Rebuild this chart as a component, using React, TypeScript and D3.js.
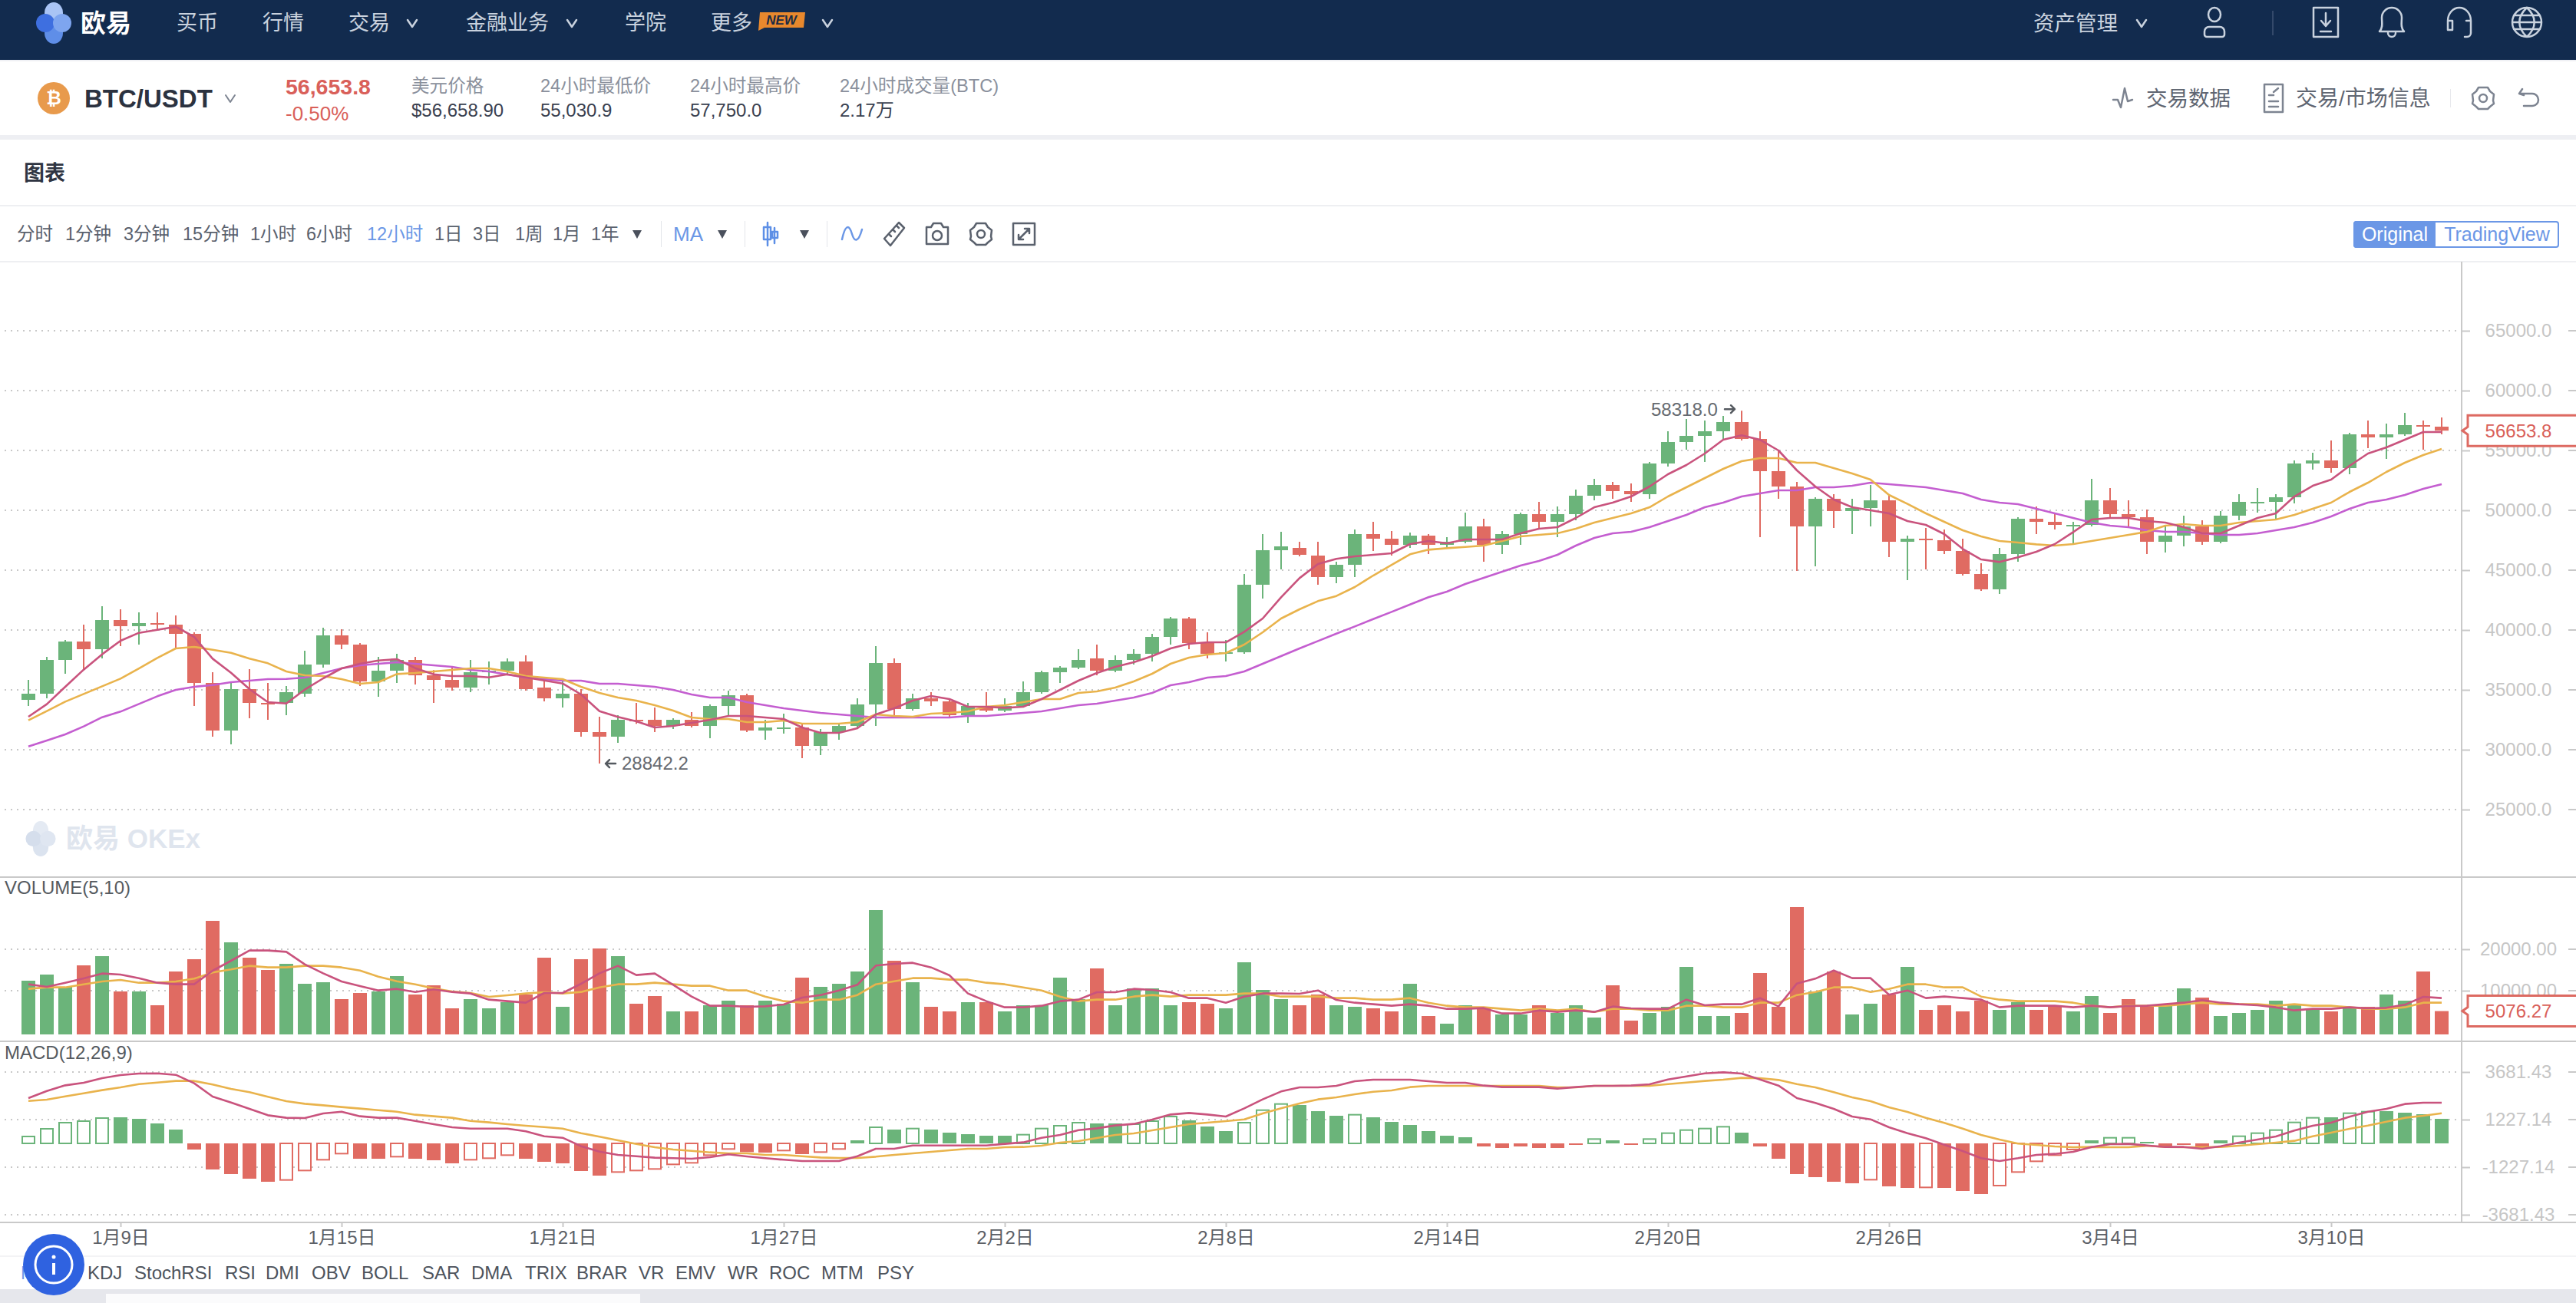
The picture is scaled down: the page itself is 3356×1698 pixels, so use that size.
import React, { useEffect, useRef } from 'react';
import * as d3 from 'd3';

const W = 3356;
const H = 1698;
const FONT = '"Liberation Sans", "Noto Sans CJK SC", sans-serif';

const GREEN = '#6bb47a';
const RED = '#e06b62';
const MA_PINK = '#c9537d';
const MA_ORANGE = '#e9b34c';
const MA_PURPLE = '#c45ed0';

// 12小时 K线, 1月6日 12:00 起
const opens = [
  34166, 34679, 37500, 39038, 38397, 40833, 40320, 40577, 40448, 39679,
  35576, 31602, 35064, 33910, 33910, 34679, 37115, 39551, 38782, 35705,
  36602, 37500, 36217, 35833, 35192, 36474, 36602, 37371, 35192, 34294,
  34679, 31474, 31089, 32499, 32499, 31986, 32499, 31986, 33653, 34551,
  31602, 31730, 31858, 30320, 31474, 31986, 33781, 37243, 33397, 34294,
  34038, 32884, 33653, 33269, 33653, 34807, 36474, 36858, 37628, 36602,
  37499, 38012, 39423, 40961, 38910, 38012, 38140, 43782, 46667, 46859,
  46218, 44423, 45448, 48013, 47628, 47115, 47884, 47115, 47371, 48654,
  47115, 48013, 49679, 49038, 49679, 51218, 52115, 51602, 51346, 53910,
  55705, 56218, 56602, 57372, 55961, 53269, 51987, 48654, 50961, 49936,
  50192, 50833, 47371, 47628, 47500, 46602, 44679, 43397, 46346, 49295,
  49038, 48654, 48782, 50833, 49679, 49423, 47372, 47884, 48654, 47372,
  49551, 50577, 50705, 51090, 53910, 54167, 53526, 56346, 56090, 56346,
  57115, 56987,
];
const closes = [
  34679, 37500, 39038, 38397, 40833, 40320, 40577, 40448, 39679, 35576,
  31602, 35064, 33910, 33781, 34807, 37115, 39551, 38782, 35705, 36602,
  37500, 36217, 35833, 35192, 36474, 36602, 37371, 35064, 34294, 34679,
  31474, 31089, 32499, 32371, 31986, 32499, 31986, 33653, 34551, 31602,
  31858, 31858, 30320, 31474, 31986, 33781, 37243, 33397, 34294, 34038,
  32884, 33653, 33269, 33653, 34807, 36474, 36858, 37499, 36602, 37499,
  38012, 39423, 40961, 38910, 38012, 38140, 43782, 46667, 46987, 46282,
  44423, 45448, 48013, 47628, 47115, 47884, 47115, 47371, 48654, 47115,
  48013, 49679, 49038, 49679, 51218, 52115, 51602, 51346, 53910, 55705,
  56218, 56602, 57372, 55961, 53269, 51987, 48654, 50961, 49936, 50192,
  50833, 47371, 47628, 47500, 46602, 44679, 43397, 46346, 49295, 49038,
  48782, 48782, 50833, 49679, 49423, 47372, 47884, 48654, 47372, 49551,
  50705, 50705, 51090, 53910, 54167, 53526, 56346, 56090, 56346, 57115,
  56987, 56653.8,
];
const highs = [
  35833, 37756, 39166, 40448, 41987, 41730, 41474, 41474, 41218, 39807,
  36474, 35576, 36730, 35576, 35320, 38269, 40192, 40064, 38910, 37756,
  38012, 37756, 36645, 36858, 37500, 37371, 37628, 37884, 35833, 35833,
  35064, 32756, 32884, 33910, 33525, 32628, 33140, 33781, 34935, 34679,
  32499, 33012, 32115, 31730, 32115, 34294, 38653, 37628, 34679, 34807,
  34166, 33910, 34807, 34294, 35705, 36602, 36987, 38397, 38782, 37884,
  38397, 39679, 41089, 41089, 39807, 39166, 44679, 48013, 48205, 47372,
  47371, 45705, 48397, 49038, 48269, 48141, 48013, 47756, 49807, 49295,
  48269, 49807, 50705, 50320, 51731, 52628, 52372, 52243, 54038, 56602,
  57628, 57500, 57885, 58318, 56602, 54979, 52372, 51090, 51346, 50961,
  52115, 51346, 47884, 48525, 48397, 47628, 45577, 46859, 49423, 50320,
  49808, 49038, 52628, 51859, 50833, 50064, 48654, 49551, 49166, 49936,
  51346, 51859, 51346, 54167, 54808, 55833, 56474, 57500, 57244, 58141,
  57500, 57756,
];
const lows = [
  33653, 34294, 36346, 36730, 37628, 38653, 38782, 40064, 38525, 33653,
  31089, 30448, 32628, 32499, 32884, 34423, 36858, 38397, 35320, 34423,
  35576, 35448, 33910, 34935, 34807, 35448, 36346, 34935, 34038, 33525,
  31089, 28842.2, 30576, 32157, 31474, 31730, 31858, 30961, 32884, 31474,
  30833, 31346, 29294, 29551, 30833, 31858, 31986, 32884, 33269, 33653,
  32756, 32243, 33140, 33140, 33525, 34679, 35576, 36730, 36217, 36474,
  37115, 37371, 38782, 38397, 37628, 37371, 38012, 42628, 45064, 46154,
  43782, 43910, 44423, 46602, 46218, 46859, 46346, 46859, 47243, 45705,
  46346, 47115, 48525, 47756, 49166, 50833, 50961, 50705, 50961, 53654,
  55064, 54038, 55961, 55833, 47756, 50961, 44936, 45320, 48525, 48013,
  48654, 46090, 44167, 45064, 46346, 44551, 43269, 43013, 45705, 48013,
  48397, 47115, 48654, 49423, 48654, 46346, 46474, 46987, 47115, 47243,
  49166, 49808, 49295, 50577, 53397, 53141, 53013, 55192, 54295, 56218,
  55064, 56346,
];

const ma5 = [
  32756, 33803, 35256, 36688, 37970, 39102, 39765, 40021, 40277, 39423,
  37606, 36431, 35064, 33974, 33867, 35021, 35961, 36794, 37179, 37456,
  37564, 36816, 36303, 36153, 36153, 36046, 36303, 36046, 35790, 35534,
  34615, 33226, 32734, 32371, 31858, 31986, 32243, 32499, 32820, 32820,
  32692, 32563, 31858, 31410, 31410, 31794, 32948, 33461, 34102, 34486,
  34230, 33589, 33589, 33504, 33589, 34230, 35000, 35769, 36410, 36922,
  37307, 37820, 38461, 38846, 38974, 38974, 39850, 40961, 42735, 44337,
  45512, 45940, 46153, 46281, 46410, 47179, 47435, 47243, 47564, 47564,
  47564, 48076, 48461, 48589, 49359, 50256, 50641, 51154, 51987, 53013,
  53782, 54743, 55897, 56261, 55897, 55000, 53333, 51987, 50897, 50256,
  50000, 49743, 49102, 48782, 48013, 46773, 45897, 45683, 46068, 46538,
  47179, 48183, 49230, 49359, 49359, 49102, 48974, 48589, 48076, 48076,
  48718, 49359, 49743, 51153, 52051, 52564, 53718, 54743, 55256, 55897,
  56538, 56538,
];
const ma10 = [
  32456, 33226, 34016, 34657, 35299, 35940, 36794, 37670, 38461, 38589,
  38354, 38098, 37606, 37222, 36538, 36217, 36153, 35897, 35512, 35641,
  36324, 36410, 36538, 36666, 36794, 36794, 36538, 36153, 36025, 35897,
  35256, 34743, 34358, 34102, 33717, 33268, 32692, 32563, 32563, 32307,
  32307, 32435, 32179, 32179, 32179, 32307, 32948, 32820, 32756, 33012,
  33076, 33204, 33589, 33717, 33974, 34230, 34230, 34743, 34871, 35192,
  35705, 36346, 37179, 37692, 37948, 38076, 38782, 39807, 40961, 41730,
  42414, 42841, 43589, 44551, 45448, 46324, 46709, 46837, 46944, 47051,
  47435, 47820, 47948, 48076, 48461, 48974, 49359, 49743, 50256, 51154,
  51923, 52692, 53461, 54102, 54359, 54359, 53974, 53974, 53526, 53077,
  52564, 51282, 50534, 49743, 49038, 48333, 47820, 47435, 47307, 47158,
  47051, 47179, 47435, 47692, 47948, 48205, 48718, 48846, 48718, 48718,
  48974, 49102, 49230, 49615, 50128, 50641, 51538, 52307, 53205, 53974,
  54615, 55128,
];
const ma30 = [
  30277, 30768, 31281, 31944, 32713, 33183, 33824, 34465, 35000, 35256,
  35405, 35640, 35769, 35897, 35918, 36025, 36410, 36794, 37051, 37179,
  37307, 37179, 37051, 36922, 36666, 36538, 36281, 36025, 35897, 35769,
  35769, 35512, 35512, 35384, 35256, 35000, 34615, 34358, 34358, 33974,
  33717, 33461, 33268, 33076, 32948, 32820, 32692, 32692, 32692, 32692,
  32692, 32820, 32820, 32948, 33076, 33204, 33461, 33717, 33845, 34102,
  34358, 34743, 35384, 35640, 36025, 36153, 36538, 37179, 37820, 38461,
  39080, 39700, 40298, 40918, 41516, 42136, 42735, 43205, 43845, 44359,
  44871, 45384, 45769, 46281, 47051, 47692, 48076, 48205, 48589, 49102,
  49615, 50256, 50641, 51154, 51410, 51666, 51666, 51923, 51923, 52051,
  52307, 52179, 52051, 51923, 51666, 51410, 50897, 50641, 50513, 50128,
  49743, 49359, 48974, 48718, 48589, 48333, 48205, 48205, 48076, 47948,
  47948, 48076, 48333, 48589, 48974, 49487, 50128, 50641, 50897, 51282,
  51794, 52179,
];

const volumes = [
  12408, 13889, 10926, 16111, 18334, 9815, 9815, 6482, 14630, 17593,
  26853, 21667, 17963, 15000, 16482, 11667, 12037, 7963, 9445, 9815,
  13519, 9074, 11297, 5741, 7963, 5741, 7222, 9074, 17963, 6111,
  17593, 20186, 18334, 6852, 8704, 5000, 5000, 6482, 7593, 6482,
  7593, 6852, 13148, 10926, 11667, 14630, 29445, 17223, 12037, 6111,
  5000, 7222, 7222, 5000, 6482, 6482, 13148, 7963, 15371, 6482,
  10556, 10556, 6482, 7222, 6852, 5741, 16852, 10185, 7963, 6482,
  9074, 6482, 6111, 5741, 5000, 11667, 3889, 2037, 6482, 6111,
  4259, 4259, 6482, 4630, 6482, 3519, 11297, 2778, 4630, 6111,
  15741, 3889, 3889, 4630, 14260, 6111, 30186, 9815, 14630, 4259,
  6852, 9074, 15741, 5371, 6482, 5000, 7593, 5371, 7222, 5371,
  6482, 5000, 8704, 4630, 7963, 6111, 6482, 10556, 8334, 3889,
  4630, 5371, 7593, 6482, 5371, 5000, 6111, 6111, 9074, 7593,
  14630, 5076.27,
];
const volMa5 = [
  11544, 10926, 11914, 12963, 14136, 13889, 13025, 11914, 11544, 11544,
  14815, 17223, 19692, 19692, 19383, 16358, 14198, 12223, 11111, 10062,
  10432, 9692, 10309, 9692, 9321, 7840, 7469, 7099, 9445, 9445,
  11667, 14198, 15988, 13766, 14136, 11420, 8580, 6358, 6358, 6111,
  6235, 6667, 8334, 8951, 10062, 11420, 16050, 16482, 16729, 15618,
  13704, 9321, 7469, 5988, 5988, 6358, 7469, 7840, 9630, 9630,
  10432, 10185, 9630, 8210, 8210, 7099, 8580, 9321, 9321, 9260,
  10062, 7778, 7099, 6729, 6358, 6729, 6358, 5617, 5617, 5803,
  4506, 4506, 5247, 4877, 5247, 4877, 6173, 5741, 5617, 5617,
  7840, 6482, 6729, 6729, 8210, 6235, 11729, 12902, 14877, 13025,
  13025, 9013, 10062, 8210, 8580, 8210, 7840, 5988, 6358, 6358,
  6358, 5988, 6358, 5988, 6296, 6358, 6729, 7099, 7716, 7099,
  6729, 6482, 5988, 5247, 5617, 5617, 5988, 5741, 5864, 6605,
  8519, 8210,
];
const volMa10 = [
  10432, 10803, 10803, 11544, 12223, 12593, 11914, 11914, 12223, 12902,
  14383, 15124, 15988, 15618, 15618, 15988, 15988, 15618, 14877, 13395,
  12284, 11544, 10556, 9815, 9445, 8519, 8889, 9321, 9630, 9321,
  9692, 10803, 11544, 11544, 11914, 11544, 11173, 11173, 10062, 10062,
  8580, 7469, 7099, 7840, 7840, 8951, 11544, 12284, 13025, 13025,
  12655, 12655, 11914, 11544, 10803, 10062, 8580, 7469, 7840, 7840,
  8580, 8951, 8580, 8951, 8951, 8951, 9321, 9321, 8580, 8580,
  8580, 8210, 8210, 7840, 7840, 8210, 7099, 6358, 5988, 5988,
  5617, 5247, 5617, 5247, 5617, 4877, 5617, 5617, 5247, 5247,
  6358, 6358, 5988, 5988, 7099, 7099, 8951, 9692, 10803, 10803,
  9692, 10432, 11544, 11544, 10803, 10803, 8580, 7840, 7469, 7469,
  7469, 7099, 6358, 5988, 6358, 6358, 6358, 6729, 7099, 6729,
  6729, 6729, 6358, 6729, 6358, 6358, 5988, 5617, 5617, 5988,
  7099, 7099,
];

const macdBars = [
  356, 752, 1069, 1148, 1306, 1346, 1267, 1029, 713, -317,
  -1346, -1583, -1821, -1979, -1887, -1399, -844, -528, -792, -792,
  -686, -792, -871, -1029, -844, -765, -607, -792, -950, -1029,
  -1425, -1663, -1478, -1399, -1320, -1082, -1003, -607, -290, -449,
  -475, -369, -554, -449, -290, 158, 831, 713, 765, 713,
  554, 475, 396, 396, 449, 765, 910, 1069, 1029, 1029,
  990, 1148, 1385, 1188, 871, 633, 1069, 1715, 2032, 1979,
  1663, 1425, 1478, 1346, 1108, 950, 633, 396, 317, -158,
  -237, -158, -237, -237, -79, 224, 158, -79, 224, 528,
  686, 765, 858, 554, -158, -792, -1583, -1742, -1979, -2058,
  -1874, -2217, -2296, -2270, -2296, -2454, -2613, -2177, -1478, -924,
  -607, -317, 158, 290, 290, 79, -158, -79, -158, 158,
  369, 528, 686, 1082, 1320, 1346, 1557, 1636, 1663, 1583,
  1504, 1267,
];
// 空心柱的序号
const macdHollow = [
  0, 1, 2, 3, 4, 14, 15, 16, 17, 20, 24, 25, 26, 32, 33, 34, 35, 36, 37, 38,
  41, 43, 44, 46, 48, 54, 55, 56, 57, 60, 61, 62, 66, 67, 68, 72, 85, 88, 89,
  90, 91, 92, 100, 103, 107, 108, 109, 110, 111, 113, 114, 120, 121, 122, 123,
  124, 126, 127,
];
const dif = [
  2336, 2705, 2995, 3127, 3365, 3523, 3602, 3615, 3536, 3101,
  2415, 2111, 1781, 1451, 1320, 1306, 1544, 1636, 1399, 1320,
  1320, 1161, 990, 831, 765, 765, 765, 620, 369, 290,
  -145, -422, -594, -660, -739, -765, -792, -713, -567, -673,
  -765, -844, -910, -910, -910, -660, -277, -277, -106, -106,
  -106, -106, -106, -26, 53, 290, 435, 686, 778, 924,
  1003, 1227, 1491, 1570, 1491, 1385, 1808, 2270, 2679, 2890,
  2890, 2969, 3206, 3286, 3286, 3286, 3206, 3127, 3127, 2982,
  2903, 2903, 2903, 2824, 2903, 2969, 2969, 2982, 3048, 3299,
  3457, 3615, 3668, 3602, 3299, 2982, 2336, 2085, 1781, 1385,
  1240, 831, 528, 264, -66, -396, -765, -910, -765, -594,
  -541, -435, -185, -40, -26, -106, -185, -185, -277, -145,
  40, 198, 356, 660, 910, 1069, 1372, 1636, 1781, 2032,
  2098, 2098,
];
const dea = [
  2190, 2256, 2428, 2586, 2745, 2890, 3061, 3140, 3220, 3220,
  3035, 2811, 2639, 2401, 2177, 2045, 1966, 1874, 1795, 1715,
  1636, 1478, 1399, 1320, 1161, 1082, 990, 910, 844, 765,
  528, 343, 158, -26, -198, -317, -383, -462, -515, -515,
  -594, -594, -660, -726, -752, -752, -686, -594, -515, -435,
  -356, -277, -277, -198, -185, -119, 40, 119, 277, 435,
  515, 673, 831, 990, 1069, 1148, 1240, 1544, 1808, 2058,
  2270, 2375, 2533, 2665, 2731, 2903, 2969, 2969, 2969, 2969,
  2969, 2969, 2969, 2890, 2890, 2969, 2969, 2969, 2969, 3061,
  3140, 3220, 3286, 3378, 3365, 3272, 3061, 2890, 2639, 2375,
  2177, 1860, 1623, 1320, 1056, 765, 435, 198, -13, -79,
  -158, -198, -185, -198, -198, -119, -185, -198, -198, -185,
  -119, -40, 40, 132, 369, 554, 752, 924, 1122, 1320,
  1425, 1557,
];

const priceTicks = [65000, 60000, 55000, 50000, 45000, 40000, 35000, 30000, 25000];
const volumeTicks = [20000, 10000];
const macdTicks = [3681.43, 1227.14, -1227.14, -3681.43];
const dateTickIndex = [5, 17, 29, 41, 53, 65, 77, 89, 101, 113, 125];
const dateTickLabels = ['1月9日', '1月15日', '1月21日', '1月27日', '2月2日', '2月8日', '2月14日', '2月20日', '2月26日', '3月4日', '3月10日'];

const navItems: [string, number][] = [['买币', 230], ['行情', 342], ['交易', 454], ['金融业务', 607], ['学院', 814], ['更多', 926]];
const navChevrons = [537, 745, 1078, 2790];
const statItems: [string, string, number][] = [
  ['美元价格', '$56,658.90', 536],
  ['24小时最低价', '55,030.9', 704],
  ['24小时最高价', '57,750.0', 899],
  ['24小时成交量(BTC)', '2.17万', 1094],
];
const periods: [string, number][] = [
  ['分时', 22], ['1分钟', 85], ['3分钟', 161], ['15分钟', 238], ['1小时', 326], ['6小时', 399],
  ['12小时', 478], ['1日', 566], ['3日', 616], ['1周', 671], ['1月', 720], ['1年', 770],
];
const indicators: [string, number][] = [
  ['KDJ', 114], ['StochRSI', 175], ['RSI', 293], ['DMI', 346], ['OBV', 406], ['BOLL', 471], ['SAR', 550], ['DMA', 614],
  ['TRIX', 684], ['BRAR', 751], ['VR', 832], ['EMV', 880], ['WR', 948], ['ROC', 1002], ['MTM', 1070], ['PSY', 1143],
];

type Sel = d3.Selection<SVGGElement, unknown, null, undefined>;

const App: React.FC = () => {
  const ref = useRef<SVGSVGElement>(null);

  useEffect(() => {
    const svg = d3.select(ref.current!);
    svg.selectAll('*').remove();
    const root = svg.append('g') as unknown as Sel;

    const text = (
      g: Sel, x: number, y: number, s: string, size: number, fill: string,
      anchor = 'start', weight = 'normal',
    ) =>
      g.append('text').attr('x', x).attr('y', y).attr('dy', '0.35em')
        .attr('font-size', size).attr('fill', fill).attr('text-anchor', anchor)
        .attr('font-weight', weight).text(s);

    const rect = (g: Sel, x: number, y: number, w: number, h: number, fill: string) =>
      g.append('rect').attr('x', x).attr('y', y).attr('width', w).attr('height', h).attr('fill', fill);

    const icon = (g: Sel, x: number, y: number, d: string, stroke: string, width = 2.5) =>
      g.append('path').attr('transform', `translate(${x},${y})`).attr('d', d)
        .attr('fill', 'none').attr('stroke', stroke).attr('stroke-width', width)
        .attr('stroke-linecap', 'round').attr('stroke-linejoin', 'round');

    const chevron = 'M-6,-4 L0,5 L6,-4';

    // 页面背景
    rect(root, 0, 0, W, H, '#ffffff');

    // 顶部导航
    rect(root, 0, 0, W, 78, '#122b4e');
    rect(root, 0, 78, W, 2, '#f0f1f5');
    const logo = (g: Sel, cx: number, cy: number, k: number, colors: string[]) => {
      const parts: [number, number, number, number][] = [[0, -13, 12, 14], [0, 13, 12, 14], [-11, 0, 12, 12], [11, 0, 12, 12]];
      parts.forEach((p, i) => {
        g.append('ellipse').attr('cx', cx + p[0] * k).attr('cy', cy + p[1] * k)
          .attr('rx', p[2] * k).attr('ry', p[3] * k).attr('fill', colors[i]);
      });
    };
    logo(root, 70, 30, 1, ['#a9c4f5', '#5f8ee8', '#3e6fe0', '#7ea5ef']);
    text(root, 105, 30, '欧易', 33, '#ffffff', 'start', 'bold');
    navItems.forEach(([s, x]) => text(root, x, 30, s, 27, '#c9d2de'));
    navChevrons.forEach((x) => icon(root, x, 30, chevron, '#c9d2de'));
    root.append('path').attr('d', 'M990,16 L1049,16 L1047,36 L996,36 L988,40 Z').attr('fill', '#e8882d');
    text(root, 1018, 26, 'NEW', 17, '#1a2a45', 'middle', 'bold').attr('font-style', 'italic');
    text(root, 2649, 30, '资产管理', 27.5, '#c9d2de');
    icon(root, 2885, 29, 'M-8,-10 a8,9 0 1,1 16,0 a8,9 0 1,1 -16,0 M-13,12 a6,6 0 0,1 6,-6 h14 a6,6 0 0,1 6,6 v4 a3,3 0 0,1 -3,3 h-20 a3,3 0 0,1 -3,-3 Z', '#c9d2de');
    rect(root, 2960, 14, 2, 32, '#34496a');
    icon(root, 3030, 29, 'M-16,-19 h32 v38 h-32 Z M0,-12 v16 M-6,-2 L0,5 L6,-2 M-7,12 h14', '#c9d2de');
    icon(root, 3116, 29, 'M-16,12 c5,-5 3,-12 3,-18 a13,13 0 0,1 26,0 c0,6 -2,13 3,18 Z M-5,14 a5,5 0 0,0 10,0', '#c9d2de');
    icon(root, 3204, 29, 'M-15,8 v-10 a15,17 0 0,1 30,0 v10 M-15,-2 h6 v12 h-6 Z M9,-2 h6 v16 a5,5 0 0,1 -5,5 h-3', '#c9d2de');
    icon(root, 3292, 29, 'M-19,0 a19,19 0 1,1 38,0 a19,19 0 1,1 -38,0 M-19,0 h38 M-17,-9 h34 M-17,9 h34 M0,-19 c-13,12 -13,26 0,38 M0,-19 c13,12 13,26 0,38', '#c9d2de');

    // 行情信息
    root.append('circle').attr('cx', 70).attr('cy', 128).attr('r', 21).attr('fill', '#e89a4c');
    text(root, 70, 128, '₿', 24, '#ffffff', 'middle', 'bold');
    text(root, 110, 128, 'BTC/USDT', 33, '#2b3240', 'start', 'bold');
    icon(root, 300, 128, chevron, '#7d8491', 2);
    text(root, 372, 113, '56,653.8', 28.5, '#d9605a', 'start', 'bold');
    text(root, 372, 148, '-0.50%', 26, '#d9605a');
    statItems.forEach(([label, value, x]) => {
      text(root, x, 112, label, 23.6, '#8a909c');
      text(root, x, 144, value, 24, '#3a4150');
    });
    icon(root, 2766, 128, 'M-13,2 L-7,2 L-3,12 L2,-13 L6,4 L12,2', '#7d8491');
    text(root, 2796, 128, '交易数据', 27.5, '#5f6672');
    icon(root, 2962, 128, 'M-12,-18 h24 v36 h-24 Z M-6,-4 L0,-4 M-6,4 h12 M-6,11 h12 M0,-8 L6,-13', '#7d8491');
    text(root, 2991, 128, '交易/市场信息', 28, '#5f6672');
    rect(root, 3192, 116, 1, 24, '#e8e9ed');
    const gear = 'M-6,-14 L6,-14 L9,-9 L14,-5 L13,3 L14,7 L9,11 L6,14 L-6,14 L-9,11 L-14,7 L-13,3 L-14,-5 L-9,-9 Z M-5,0 a5,5 0 1,1 10,0 a5,5 0 1,1 -10,0';
    icon(root, 3235, 128, gear, '#7d8491');
    icon(root, 3294, 128, 'M-8,-12 L-12,-6 L-6,-4 M-12,-6 H5 a8,8 0 0,1 0,16 H-6', '#7d8491');
    rect(root, 0, 176, W, 6, '#eeeff3');

    // 图表标题和工具栏
    text(root, 31, 226, '图表', 27, '#2f3542', 'start', 'bold');
    rect(root, 0, 267, W, 2, '#eeeff2');
    periods.forEach(([s, x]) => text(root, x, 305, s, 23.5, s === '12小时' ? '#6b97e6' : '#5a616d'));
    const tri = (x: number) => root.append('path').attr('d', `M${x - 6},300 h12 l-6,11 Z`).attr('fill', '#4a505c');
    [830, 941, 1048].forEach(tri);
    [861, 970, 1077].forEach((x) => rect(root, x, 288, 1, 34, '#e3e5ea'));
    text(root, 877, 305, 'MA', 26, '#6b97e6');
    icon(root, 1004, 305, 'M-4,-15 V15 M-9,-9 h9 v16 h-9 Z M5,-8 V12 M2,-3 h7 v8 h-7 Z', '#5d8fe6');
    icon(root, 1110, 305, 'M-13,7 C-8,-16 -3,-10 0,0 C3,10 8,12 13,-6', '#6b97e6');
    icon(root, 1165, 305, 'M-13,6 L6,-15 L13,-8 L-5,15 Z M-7,0 l3,3 M-2,-6 l3,3 M3,-11 l3,3', '#5a616d');
    icon(root, 1221, 305, 'M-14,-9 h6 l3,-5 h10 l3,5 h6 v22 h-28 Z M-6,2 a6,6 0 1,1 12,0 a6,6 0 1,1 -12,0', '#5a616d');
    icon(root, 1278, 305, gear, '#5a616d');
    icon(root, 1334, 305, 'M-14,-14 h28 v28 h-28 Z M-6,6 L6,-6 M1,-7 h6 v6 M-7,1 v6 h6', '#5a616d');

    // Original / TradingView 切换
    root.append('rect').attr('x', 3067).attr('y', 289).attr('width', 266).attr('height', 33).attr('rx', 3)
      .attr('fill', '#fff').attr('stroke', '#6b97e6').attr('stroke-width', 2);
    root.append('path').attr('d', 'M3070,288 H3173 V323 H3070 a4,4 0 0,1 -4,-4 V292 a4,4 0 0,1 4,-4 Z').attr('fill', '#6b97e6');
    text(root, 3120, 305, 'Original', 25, '#ffffff', 'middle');
    text(root, 3253, 305, 'TradingView', 25, '#6b97e6', 'middle');
    rect(root, 0, 340, W, 2, '#eeeff2');

    // 比例尺
    const x = d3.scaleLinear().domain([0, opens.length - 1]).range([37, 3181]);
    const yPrice = d3.scaleLinear().domain([25000, 65000]).range([1055, 431]);
    const yVol = d3.scaleLinear().domain([0, 20000]).range([1345, 1237]);
    const yMacd = d3.scaleLinear().domain([-3681.43, 3681.43]).range([1583, 1397]);
    const barW = 18;
    const plotRight = 3201;
    const axisX = 3207;

    const chart = root.append('g').attr('font-family', FONT) as unknown as Sel;

    // 水印
    logo(chart, 53, 1093, 0.85, ['#e4eaf3', '#dbe3ef', '#d5deec', '#dfe6f1']);
    text(chart, 86, 1093, '欧易 OKEx', 35, '#dfe5ee', 'start', 'bold');

    // 虚线网格
    const gridline = (ticks: number[], scale: d3.ScaleLinear<number, number>) => {
      chart.append('g').selectAll('line').data(ticks).enter().append('line')
        .attr('x1', 6).attr('x2', plotRight)
        .attr('y1', (d) => scale(d)).attr('y2', (d) => scale(d))
        .attr('stroke', '#c8c8c8').attr('stroke-width', 2).attr('stroke-dasharray', '2 6');
    };
    gridline(priceTicks, yPrice);
    gridline(volumeTicks, yVol);
    gridline(macdTicks, yMacd);

    // K线
    const idx = d3.range(opens.length);
    const color = (i: number) => (closes[i] >= opens[i] ? GREEN : RED);
    const candles = chart.append('g');
    candles.selectAll('line').data(idx).enter().append('line')
      .attr('x1', (i) => x(i)).attr('x2', (i) => x(i))
      .attr('y1', (i) => yPrice(highs[i])).attr('y2', (i) => yPrice(lows[i]))
      .attr('stroke', color).attr('stroke-width', 2);
    candles.selectAll('rect').data(idx).enter().append('rect')
      .attr('x', (i) => x(i) - barW / 2).attr('width', barW)
      .attr('y', (i) => yPrice(Math.max(opens[i], closes[i])))
      .attr('height', (i) => Math.max(2, Math.abs(yPrice(opens[i]) - yPrice(closes[i]))))
      .attr('fill', color);

    const drawLine = (values: number[], scale: d3.ScaleLinear<number, number>, stroke: string) => {
      const line = d3.line<number>().x((_, i) => x(i)).y((d) => scale(d));
      chart.append('path').attr('d', line(values)!).attr('fill', 'none')
        .attr('stroke', stroke).attr('stroke-width', 2.6).attr('stroke-linejoin', 'round');
    };
    drawLine(ma30, yPrice, MA_PURPLE);
    drawLine(ma10, yPrice, MA_ORANGE);
    drawLine(ma5, yPrice, MA_PINK);

    // 最高最低标注
    const arrowR = 'M0,0 H13 M8,-5 L13,0 L8,5';
    const arrowL = 'M13,0 H0 M5,-5 L0,0 L5,5';
    text(chart, 2151, yPrice(58318) - 2, '58318.0', 24, '#666a70');
    icon(chart, 2247, yPrice(58318) - 2, arrowR, '#555a60');
    icon(chart, 789, yPrice(28842.2), arrowL, '#555a60');
    text(chart, 810, yPrice(28842.2), '28842.2', 24, '#666a70');

    // 成交量
    const volBase = 1348;
    chart.append('g').selectAll('rect').data(idx).enter().append('rect')
      .attr('x', (i) => x(i) - barW / 2).attr('width', barW)
      .attr('y', (i) => yVol(volumes[i]))
      .attr('height', (i) => volBase - yVol(volumes[i]))
      .attr('fill', color);
    drawLine(volMa10, yVol, MA_ORANGE);
    drawLine(volMa5, yVol, MA_PINK);

    // MACD 柱
    const macdColor = (d: number) => (d >= 0 ? GREEN : RED);
    const hollow = new Set(macdHollow);
    chart.append('g').selectAll('rect').data(macdBars).enter().append('rect')
      .attr('x', (_, i) => x(i) - barW / 2 + (hollow.has(i) ? 1 : 0))
      .attr('width', (_, i) => (hollow.has(i) ? barW - 2 : barW))
      .attr('y', (d) => Math.min(yMacd(d), yMacd(0)))
      .attr('height', (d) => Math.abs(yMacd(d) - yMacd(0)))
      .attr('fill', (_, i) => (hollow.has(i) ? '#ffffff' : macdColor(macdBars[i])))
      .attr('stroke', (d, i) => (hollow.has(i) ? macdColor(d) : 'none'))
      .attr('stroke-width', 2);
    drawLine(dea, yMacd, MA_ORANGE);
    drawLine(dif, yMacd, MA_PINK);

    // 面板边线
    [1143, 1357, 1593].forEach((y) => rect(chart, 0, y - 1, W, 2, '#c9c9c9'));
    rect(chart, axisX - 1, 341, 2, 1252, '#c9c9c9');

    // 右侧刻度
    const yAxis = (ticks: number[], scale: d3.ScaleLinear<number, number>, fmt: (d: number) => string) => {
      const g = chart.append('g').attr('transform', `translate(${axisX},0)`)
        .call(d3.axisRight(scale).tickValues(ticks).tickSize(11).tickFormat((d) => fmt(d as number)) as any);
      g.select('.domain').remove();
      g.selectAll('line').attr('stroke', '#c9c9c9').attr('stroke-width', 2);
      g.selectAll('text').attr('x', 74).attr('fill', '#c6c6c6')
        .attr('font-size', 24).attr('font-family', FONT).attr('text-anchor', 'middle');
      chart.append('g').selectAll('line').data(ticks).enter().append('line')
        .attr('x1', 3346).attr('x2', W).attr('y1', (d) => scale(d)).attr('y2', (d) => scale(d))
        .attr('stroke', '#c9c9c9').attr('stroke-width', 2);
    };
    yAxis(priceTicks, yPrice, (d) => d.toFixed(1));
    yAxis(volumeTicks, yVol, (d) => d.toFixed(2));
    yAxis(macdTicks, yMacd, (d) => d.toFixed(2));

    // 现价标签
    const priceTag = (yy: number, label: string) => {
      chart.append('path')
        .attr('d', `M${W + 2},${yy - 20} H3215 V${yy - 5} L3208,${yy} L3215,${yy + 5} V${yy + 20} H${W + 2}`)
        .attr('fill', '#ffffff').attr('stroke', '#dd6a62').attr('stroke-width', 3);
      text(chart, 3281, yy, label, 24, '#d9605a', 'middle');
    };
    priceTag(yPrice(56653.8), '56653.8');
    priceTag(yVol(5076.27), '5076.27');

    // 指标标题
    text(chart, 6, 1157, 'VOLUME(5,10)', 24, '#555a60');
    text(chart, 6, 1372, 'MACD(12,26,9)', 24, '#555a60');

    // 时间轴
    const xAxis = chart.append('g').attr('transform', 'translate(0,1593)')
      .call(d3.axisBottom(x).tickValues(dateTickIndex).tickSize(6)
        .tickFormat((_, i) => dateTickLabels[i]) as any);
    xAxis.select('.domain').remove();
    xAxis.selectAll('line').attr('stroke', '#c9c9c9').attr('stroke-width', 2);
    xAxis.selectAll('text').attr('y', 20).attr('dy', '0.35em').attr('fill', '#5c6066')
      .attr('font-size', 24).attr('font-family', FONT);

    // 指标切换栏
    rect(chart, 0, 1636, W, 2, '#f3f3f5');
    text(chart, 27, 1659, 'MACD', 24, '#6b97e6');
    indicators.forEach(([s, xx]) => text(chart, xx, 1659, s, 24, '#4d535c'));
    rect(chart, 0, 1680, W, 18, '#e6e7ec');
    rect(chart, 138, 1686, 696, 12, '#fbfbfc');
    chart.append('circle').attr('cx', 70).attr('cy', 1648).attr('r', 40).attr('fill', '#2f62e0');
    chart.append('circle').attr('cx', 70).attr('cy', 1648).attr('r', 24).attr('fill', 'none')
      .attr('stroke', '#ffffff').attr('stroke-width', 3);
    rect(chart, 68, 1646, 4, 15, '#ffffff');
    chart.append('circle').attr('cx', 70).attr('cy', 1638).attr('r', 2.5).attr('fill', '#ffffff');
  }, []);

  return (
    <svg
      ref={ref}
      width={W}
      height={H}
      fontFamily={FONT}
      style={{ position: 'absolute', left: 0, top: 0, display: 'block' }}
    />
  );
};

export default App;
